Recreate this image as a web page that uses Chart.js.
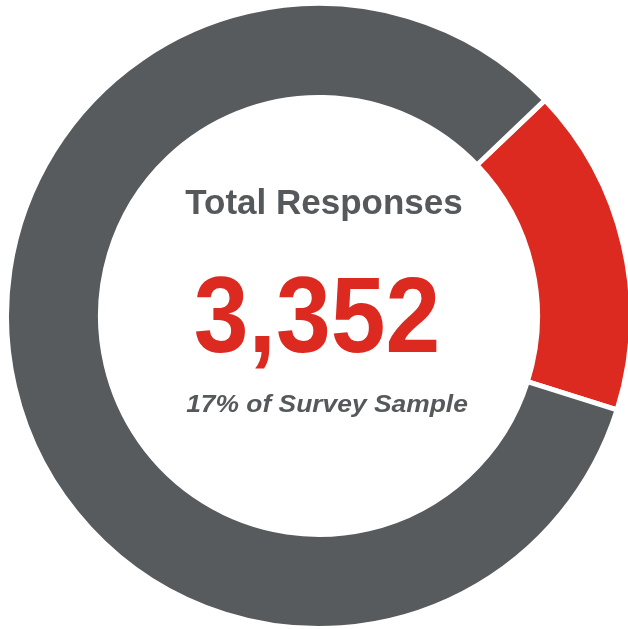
<!DOCTYPE html>
<html>
<head>
<meta charset="utf-8">
<script src="https://cdn.jsdelivr.net/npm/chart.js@4"></script>
<style>
    html, body { margin: 0; padding: 0; background: #ffffff; overflow: hidden; width: 628px; height: 629px; }
    #wrap { position: absolute; left: 4px; top: 1px; width: 630px; height: 630px; }
</style>
</head>
<body>
<div id="wrap"><canvas id="responses-chart" width="630" height="630"></canvas></div>
<script>
// Share of survey sample that responded
const segmentLabels = ['Responded', 'Did not respond'];
const segmentValues = [17, 83];
const segmentColors = ['#dc2a20', '#575b5e'];

// Centre text
const titleText = 'Total Responses';
const totalText = '3,352';
const subtitleText = '17% of Survey Sample';

// Draw one line of text, squeezed or stretched horizontally
function drawLine(ctx, text, x, y, font, color, scaleX) {
    ctx.save();
    ctx.translate(x, y);
    ctx.scale(scaleX, 1);
    ctx.font = font;
    ctx.fillStyle = color;
    ctx.textAlign = 'center';
    ctx.textBaseline = 'alphabetic';
    ctx.fillText(text, 0, 0);
    ctx.restore();
}

/**
 * Draws the three lines of text in the hole of the doughnut
 */
const centerTextPlugin = {
    id: 'centerText',
    afterDraw(chart) {
        const arc = chart.getDatasetMeta(0).data[0];
        if (!arc) return;
        const ctx = chart.ctx;
        const cx = arc.x;
        const cy = arc.y;
        const family = '"Liberation Sans", Arial, sans-serif';

        drawLine(ctx, titleText, cx + 5, cy - 102, 'bold 35px ' + family, '#55595c', 1.0);
        drawLine(ctx, totalText, cx - 2, cy + 36, 'bold 107px ' + family, '#dc2a20', 0.92);
        drawLine(ctx, subtitleText, cx + 8, cy + 96, 'italic bold 24px ' + family, '#55595c', 1.1);
    }
};

const ctx = document.getElementById('responses-chart');
new Chart(ctx, {
    type: 'doughnut',
    data: {
        labels: segmentLabels,
        datasets: [{
            data: segmentValues,
            backgroundColor: segmentColors,
            borderColor: '#ffffff',
            borderWidth: 5,
            hoverOffset: 0
        }]
    },
    options: {
        responsive: false,
        animation: false,
        rotation: 46.3,
        radius: 312.5,
        cutout: 218.5,
        plugins: {
            legend: { display: false },
            tooltip: { enabled: false }
        }
    },
    plugins: [centerTextPlugin]
});
</script>
</body>
</html>
